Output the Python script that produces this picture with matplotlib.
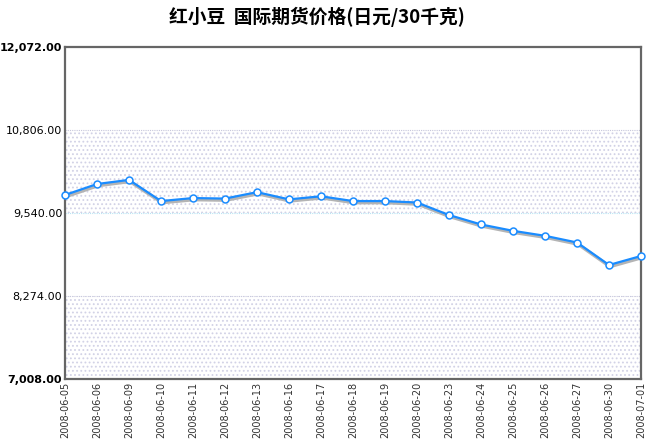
import matplotlib
matplotlib.use('Agg')
import matplotlib.pyplot as plt

plt.rcParams['font.family'] = ['Noto Sans CJK SC', 'DejaVu Sans']

# data
dates = ['2008-06-05', '2008-06-06', '2008-06-09', '2008-06-10', '2008-06-11',
         '2008-06-12', '2008-06-13', '2008-06-16', '2008-06-17', '2008-06-18',
         '2008-06-19', '2008-06-20', '2008-06-23', '2008-06-24', '2008-06-25',
         '2008-06-26', '2008-06-27', '2008-06-30', '2008-07-01']
prices = [9815, 9982, 10045, 9722, 9768, 9760, 9858, 9748, 9795, 9722,
          9722, 9700, 9509, 9365, 9268, 9192, 9090, 8747, 8884]
yticks = [7008.00, 8274.00, 9540.00, 10806.00, 12072.00]
title = '红小豆  国际期货价格(日元/30千克)'

fig = plt.figure(figsize=(6.71, 4.47), dpi=100)
ax = fig.add_axes([65 / 671, 68 / 447, 576 / 671, 332 / 447])

x = list(range(len(dates)))
ax.set_xlim(0, len(dates) - 1)
ax.set_ylim(yticks[0], yticks[-1])

# dotted bands
plt.rcParams['hatch.linewidth'] = 0.8
for lo, hi in [(yticks[0], yticks[1]), (yticks[2], yticks[3])]:
    ax.axhspan(lo, hi, facecolor='white', edgecolor='#d2d2e6', hatch='....',
               linewidth=0, zorder=0)
for yv, c in [(yticks[1], '#c8c8dc'), (yticks[2], '#b8e4f4'), (yticks[3], '#c8c8dc')]:
    ax.axhline(yv, color=c, linestyle=(0, (1, 1)), linewidth=0.8, zorder=1)

# shadow line, then the series with markers
ax.plot([v + 0.03 for v in x], [p - 25 for p in prices], color='#b4b4b4',
        linewidth=2.4, zorder=2, solid_capstyle='round')
ax.plot(x, prices, color='#1a8cff', linewidth=1.6, marker='o', markersize=5,
        markerfacecolor='white', markeredgecolor='#1a8cff', markeredgewidth=1.1,
        zorder=3, clip_on=False)

ax.set_yticks(yticks)
ax.set_yticklabels(['{:,.2f}'.format(v) for v in yticks], fontsize=8,
                   family='DejaVu Sans')
for i in (0, -1):
    ax.get_yticklabels()[i].set_fontweight('bold')
ax.set_xticks(x)
ax.set_xticklabels(dates, rotation=90, fontsize=7, color='#333333',
                   family='DejaVu Sans')
ax.tick_params(length=0, pad=2)

for s in ax.spines.values():
    s.set_color('#666666')
    s.set_linewidth(1.6)

fig.text(0.473, 0.962, title, ha='center', va='center', fontsize=13.5,
         fontweight='bold')

fig.savefig('out.png', dpi=100)
